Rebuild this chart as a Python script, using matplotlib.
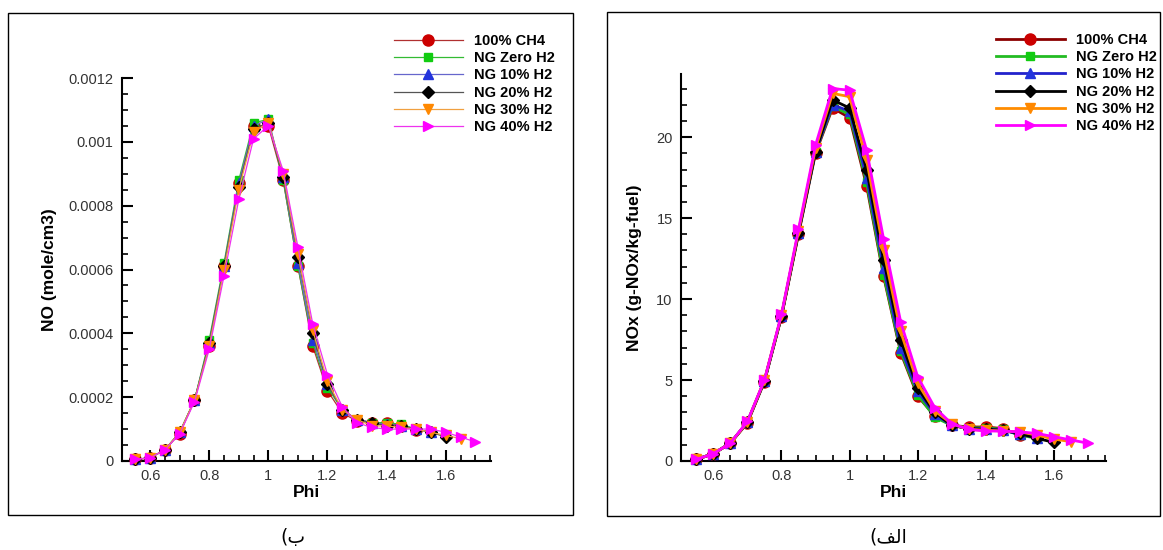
"""
NO and NOx vs equivalence ratio for CH4 / natural gas with H2 addition
"""

import matplotlib
matplotlib.use('Agg')
import matplotlib.pyplot as plt
from matplotlib.patches import Rectangle
from matplotlib.ticker import MultipleLocator, FormatStrFormatter

plt.rcParams['font.family'] = ['Liberation Sans', 'DejaVu Sans']

# equivalence ratio points
phi = [0.55, 0.6, 0.65, 0.7, 0.75, 0.8, 0.85, 0.9, 0.95, 1.0, 1.05, 1.1,
       1.15, 1.2, 1.25, 1.3, 1.35, 1.4, 1.45, 1.5, 1.55, 1.6, 1.65, 1.7]

labels = ['100% CH4', 'NG Zero H2', 'NG 10% H2', 'NG 20% H2', 'NG 30% H2', 'NG 40% H2']

# NO (mole/cm3), left panel
no_ch4 = [0.000005, 0.00001, 0.000035, 0.000085, 0.00019, 0.00036, 0.00061, 0.00087, 0.00105, 0.00105,
          0.00088, 0.00061, 0.00036, 0.00022, 0.00015, 0.000125, 0.00012, 0.00012, 0.00011, 0.000097]
no_ng0 = [0.000005, 0.00001, 0.000035, 0.00009, 0.00019, 0.00038, 0.00062, 0.00088, 0.00106, 0.00107,
          0.00088, 0.00061, 0.00037, 0.00023, 0.00016, 0.00013, 0.00012, 0.00012, 0.000115, 0.0001, 0.00009]
no_ng10 = [0.000005, 0.00001, 0.000035, 0.00009, 0.00019, 0.00037, 0.00061, 0.00087, 0.00105, 0.00107,
           0.00089, 0.00062, 0.00038, 0.00024, 0.00016, 0.00013, 0.00012, 0.000115, 0.00011, 0.0001, 0.00009]
no_ng20 = [0.000005, 0.00001, 0.000035, 0.00009, 0.00019, 0.00037, 0.00061, 0.00086, 0.00104, 0.00106,
           0.00089, 0.00064, 0.0004, 0.00024, 0.00016, 0.00013, 0.00012, 0.00011, 0.00011, 0.0001, 0.00009, 0.000075]
no_ng30 = [0.000005, 0.00001, 0.000035, 0.00009, 0.00019, 0.00036, 0.0006, 0.00085, 0.00103, 0.00106,
           0.0009, 0.00065, 0.00041, 0.00025, 0.00016, 0.00013, 0.00011, 0.00011, 0.000105, 0.0001, 0.00009,
           0.00008, 0.00007]
no_ng40 = [0.000005, 0.00001, 0.000035, 0.000085, 0.000185, 0.00035, 0.00058, 0.00082, 0.00101, 0.00105,
           0.00091, 0.00067, 0.00043, 0.00027, 0.00017, 0.00012, 0.000105, 0.0001, 0.0001, 0.0001, 0.0001,
           0.00009, 0.000075, 0.00006]

# NOx (g-NOx/kg-fuel), right panel
nox_ch4 = [0.1, 0.45, 1.1, 2.35, 4.9, 8.9, 14.0, 19.0, 21.8, 21.2, 17.0, 11.4, 6.7, 4.0, 2.8, 2.2,
           2.1, 2.1, 2.0, 1.6]
nox_ng0 = [0.1, 0.45, 1.1, 2.4, 4.95, 8.95, 14.1, 19.1, 21.9, 21.4, 17.2, 11.5, 6.8, 4.1, 2.7, 2.2,
           2.05, 2.05, 1.95, 1.6, 1.4]
nox_ng10 = [0.1, 0.45, 1.1, 2.4, 4.95, 8.95, 14.1, 19.1, 22.0, 21.6, 17.5, 11.9, 7.0, 4.3, 2.9, 2.2,
            2.0, 2.0, 1.9, 1.65, 1.45]
nox_ng20 = [0.1, 0.45, 1.1, 2.4, 4.95, 8.95, 14.1, 19.1, 22.3, 21.8, 18.0, 12.4, 7.5, 4.5, 3.0, 2.2,
            2.0, 1.95, 1.9, 1.7, 1.4, 1.15]
nox_ng30 = [0.1, 0.45, 1.1, 2.4, 5.0, 9.0, 14.2, 19.3, 22.7, 22.5, 18.6, 13.0, 8.0, 4.8, 3.1, 2.3,
            1.95, 1.9, 1.85, 1.8, 1.6, 1.35, 1.2]
nox_ng40 = [0.1, 0.45, 1.1, 2.45, 5.0, 9.05, 14.3, 19.5, 23.0, 22.9, 19.2, 13.7, 8.6, 5.2, 3.3, 2.3,
            1.95, 1.85, 1.85, 1.8, 1.7, 1.5, 1.3, 1.1]

markers = ['o', 's', '^', 'D', 'v', '>']
msizes = [8, 5.5, 6.5, 6, 7, 7]
marker_colors = ['#cc0000', '#11cc11', '#2233dd', '#000000', '#ff8800', '#ff00ff']
line_left = ['#b03030', '#33bb33', '#6666cc', '#555555', '#f0a040', '#ee33ee']
line_right = ['#8b0000', '#22bb22', '#2222cc', '#000000', '#ff8c00', '#ff00ff']

fig = plt.figure(figsize=(11.63, 5.5), dpi=100)

# panel frames
fig.add_artist(Rectangle((8 / 1163, 1 - 515 / 550), 565 / 1163, 502 / 550,
                         transform=fig.transFigure, fill=False, lw=1, ec='black'))
fig.add_artist(Rectangle((607 / 1163, 1 - 516 / 550), 553 / 1163, 504 / 550,
                         transform=fig.transFigure, fill=False, lw=1, ec='black'))

ax1 = fig.add_axes([122 / 1163, 1 - 461 / 550, 369 / 1163, 383 / 550])
ax2 = fig.add_axes([681 / 1163, 1 - 461 / 550, 425 / 1163, 387 / 550])


def style_axis(ax):
    for s in ['top', 'right']:
        ax.spines[s].set_visible(False)
    for s in ['left', 'bottom']:
        ax.spines[s].set_linewidth(1.5)
    ax.xaxis.set_major_locator(MultipleLocator(0.2))
    ax.xaxis.set_minor_locator(MultipleLocator(0.05))
    ax.xaxis.set_major_formatter(FormatStrFormatter('%g'))
    ax.yaxis.set_major_formatter(FormatStrFormatter('%g'))
    ax.set_xlim(0.505, 1.753)
    ax.tick_params(which='major', direction='in', length=8, width=1.5,
                   labelsize=10.5, labelcolor='#333333', pad=6)
    ax.tick_params(which='minor', direction='in', length=4.5, width=1.2)
    ax.set_xlabel('Phi', fontsize=12.5, fontweight='bold', labelpad=1)


no_series = [no_ch4, no_ng0, no_ng10, no_ng20, no_ng30, no_ng40]
nox_series = [nox_ch4, nox_ng0, nox_ng10, nox_ng20, nox_ng30, nox_ng40]

for i, vals in enumerate(no_series):
    ax1.plot(phi[:len(vals)], vals, color=line_left[i], lw=0.9, marker=markers[i],
             ms=msizes[i], mfc=marker_colors[i], mec=marker_colors[i], label=labels[i],
             clip_on=False, zorder=3 + i)
for i, vals in enumerate(nox_series):
    ax2.plot(phi[:len(vals)], vals, color=line_right[i], lw=2.0, marker=markers[i],
             ms=msizes[i], mfc=marker_colors[i], mec=marker_colors[i], label=labels[i],
             clip_on=False, zorder=3 + i)

style_axis(ax1)
ax1.set_ylim(0, 0.0012)
ax1.yaxis.set_major_locator(MultipleLocator(0.0002))
ax1.yaxis.set_minor_locator(MultipleLocator(0.00005))
ax1.set_ylabel('NO (mole/cm3)', fontsize=12.5, fontweight='bold', labelpad=8)

style_axis(ax2)
ax2.set_ylim(0, 23.9)
ax2.yaxis.set_major_locator(MultipleLocator(5))
ax2.yaxis.set_minor_locator(MultipleLocator(1))
ax2.set_ylabel('NOx (g-NOx/kg-fuel)', fontsize=12.5, fontweight='bold', labelpad=10)

leg_kw = dict(loc='upper left', frameon=False, borderpad=0, borderaxespad=0,
              handlelength=4.7, handletextpad=0.8, labelspacing=0.22,
              prop={'weight': 'bold', 'size': 10.5})
ax1.legend(bbox_to_anchor=(394 / 1163, 1 - 34 / 550), bbox_transform=fig.transFigure, **leg_kw)
ax2.legend(bbox_to_anchor=(996 / 1163, 1 - 33 / 550), bbox_transform=fig.transFigure, **leg_kw)

# panel captions (Persian, drawn in visual order)
fig.text(293 / 1163, 1 - 537 / 550, '(\u0628', ha='center', va='center', fontsize=13.5,
         family=['DejaVu Sans'])
fig.text(888 / 1163, 1 - 537 / 550, '(\ufed2\ufedf\u0627', ha='center', va='center', fontsize=13.5,
         family=['DejaVu Sans'])

fig.savefig('out.png', dpi=100)
